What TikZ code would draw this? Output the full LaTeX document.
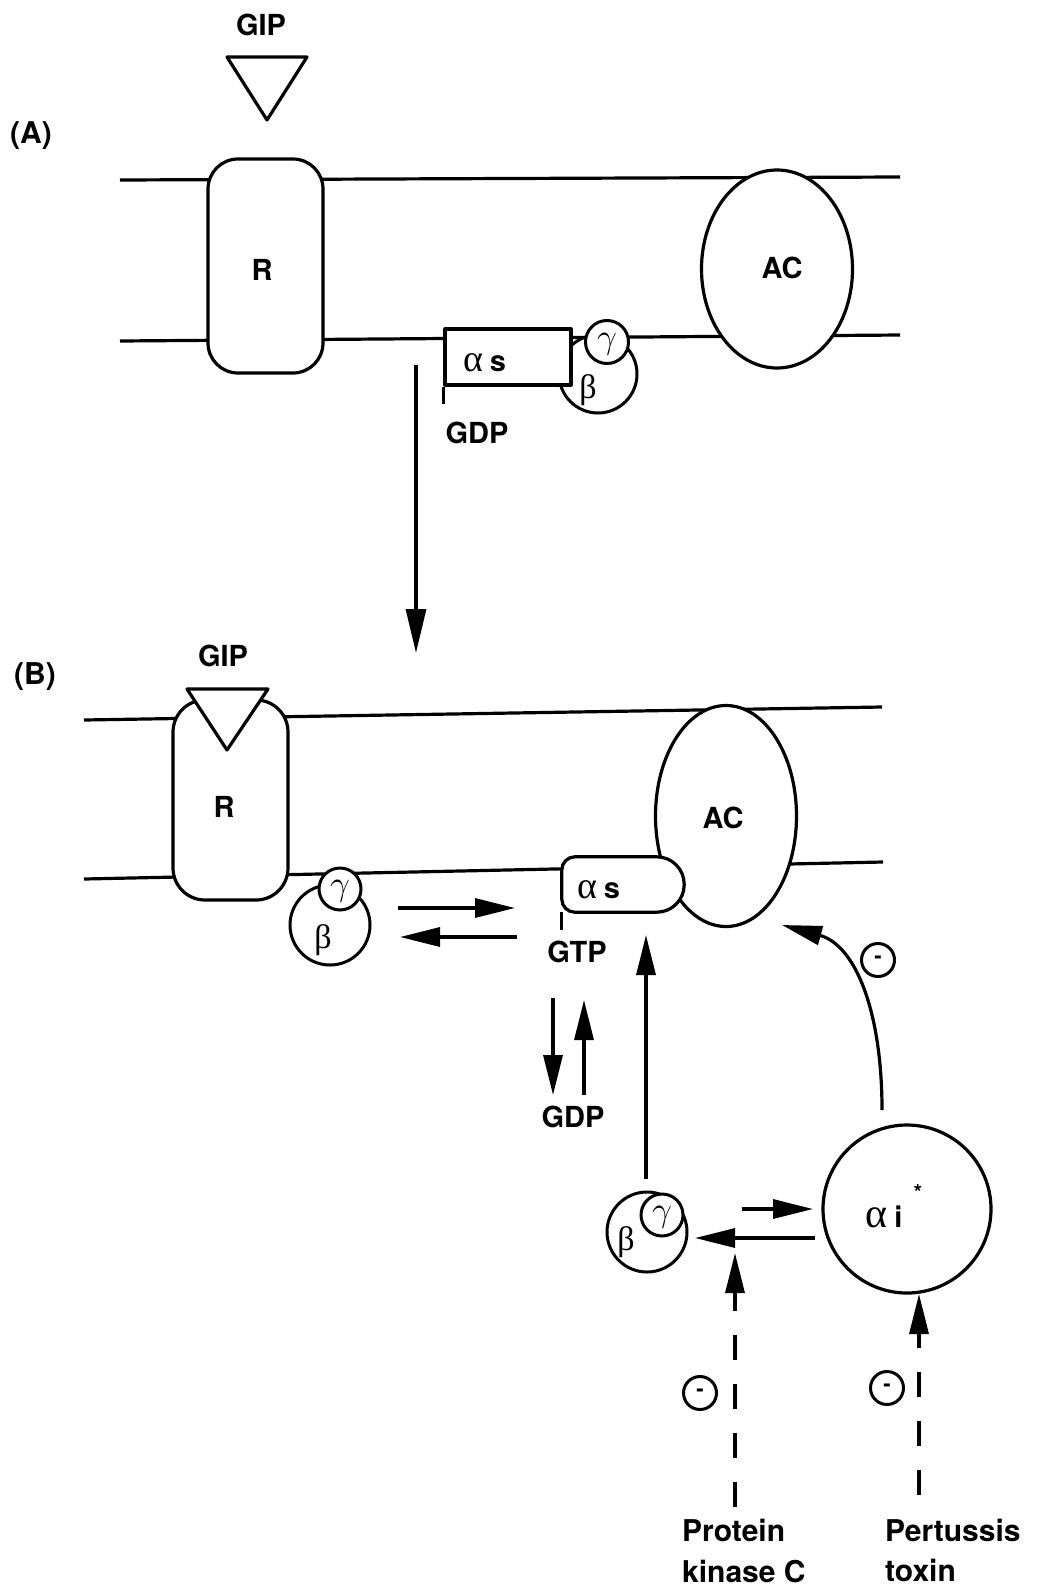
\documentclass[tikz,border=0pt]{standalone}
\usepackage{graphicx}
\usepackage{fontspec}
\setmainfont{TeX Gyre Heros}
\newfontfamily\grk{Liberation Serif}
\usetikzlibrary{arrows.meta,shapes.geometric}
\newcommand{\gam}{\fontsize{20}{22}\selectfont\scalebox{1.7}{$\gamma$}}
\begin{document}
\begin{tikzpicture}[x=1pt,y=-1pt,line join=round,
  lbl/.style={font=\fontsize{29}{32}\selectfont\bfseries, inner sep=0pt},
  ln/.style={line width=3.2pt},
  mem/.style={line width=3.2pt},
  rbox/.style={draw, line width=3.2pt, fill=white, rounded corners=30pt, minimum width=115pt, inner sep=0pt},
  acell/.style={draw, ellipse, line width=3.2pt, fill=white, inner sep=0pt},
  circ/.style={draw, circle, line width=3pt, fill=white, inner sep=0pt},
  arr/.style={line width=3.2pt, -{Triangle[length=40pt,width=19pt]}},
  dsh/.style={arr, dash pattern=on 25pt off 24pt},
  gk/.style={font=\grk\fontsize{34}{36}\selectfont, inner sep=0pt},
  minus/.style={circ, minimum size=33pt, font=\fontsize{22}{22}\selectfont\bfseries}
]
\useasboundingbox[fill=white] (0,0) rectangle (1039,1590);

% ---------------- (A) ----------------
\node[lbl, font=\fontsize{30}{32}\selectfont\bfseries] (labA) at (31,136) {(A)};
\node[lbl] (gipA) at (261,25) {GIP};
\draw[ln, fill=white] (227,57) coordinate (tA1) -- (307,57) coordinate (tA2) -- (267,120) coordinate (tA3) -- cycle;

\draw[mem] (120,180) coordinate (mAtl) -- (900,177) coordinate (mAtr);
\draw[mem] (120,341) coordinate (mAbl) -- (900,335) coordinate (mAbr);

\node[rbox, minimum height=214pt] (RA) at (265.5,266) {};
\node[lbl] (RAt) at (262,270) {R};
\node[acell, minimum width=151pt, minimum height=198pt] (ACA) at (777,269) {};
\node[lbl] (ACAt) at (782,268) {AC};

\node[circ, minimum size=78pt] (bA) at (598,374) {};
\node[draw, ln, fill=white, minimum width=126pt, minimum height=56pt, inner sep=0pt] (asA) at (508,357) {};
\node[circ, minimum size=43pt] (gA) at (607,342) {};
\draw[ln] (asA.south west) -- ++(0,17) coordinate (asAtail);
\node[inner sep=0pt] (asAt) at (485,363) {{\grk\fontsize{38}{40}\selectfont α}\hspace{6pt}{\fontsize{29}{32}\selectfont\bfseries s}};
\node[inner sep=0pt] (gAt) at (607,344) {\gam};
\node[gk] (bAt) at (588,390) {β};
\node[lbl] (gdpA) at (477,433) {GDP};

\coordinate (vA1) at (416,365);
\coordinate (vA2) at (416,653);
\draw[arr, -{Triangle[length=44pt,width=20pt]}] (vA1) -- (vA2);

% ---------------- (B) ----------------
\node[lbl, font=\fontsize{30}{32}\selectfont\bfseries] (labB) at (35,677) {(B)};
\node[lbl] (gipB) at (223,656) {GIP};

\draw[mem] (84,720) coordinate (mBtl) -- (882,707) coordinate (mBtr);
\draw[mem] (84,879) coordinate (mBbl) -- (883,862) coordinate (mBbr);

\node[rbox, rounded corners=32pt, minimum height=200pt] (RB) at (230.5,800) {};
\node[lbl] (RBt) at (224,807) {R};
\draw[ln, fill=white] (187,689) coordinate (tB1) -- (268,689) coordinate (tB2) -- (227,750) coordinate (tB3) -- cycle;

\node[acell, minimum width=141pt, minimum height=221pt] (ACB) at (726,816) {};
\node[lbl] (ACBt) at (723,818) {AC};

\node[minimum width=122pt, minimum height=55pt, inner sep=0pt] (asB) at (623,884.5) {};
\draw[ln, fill=white] (asB.south) [rounded corners=13pt] -- (asB.south west) -- (asB.north west) -- (asB.north) [rounded corners=27.5pt] -- (asB.north east) -- (asB.south east) -- (asB.south);
\draw[ln] (asB.south west) -- ++(0,18) coordinate (asBtail);
\node[inner sep=0pt] (asBt) at (599,890) {{\grk\fontsize{38}{40}\selectfont α}\hspace{6pt}{\fontsize{29}{32}\selectfont\bfseries s}};

% beta gamma near R
\node[circ, minimum size=80pt] (bB) at (330,925) {};
\node[circ, minimum size=42pt] (gB) at (340,889) {};
\node[inner sep=0pt] (gBt) at (340,891) {\gam};
\node[gk] (bBt) at (323,940) {β};

% exchange arrows
\coordinate (e1a) at (398,908); \coordinate (e1b) at (515,908);
\coordinate (e2a) at (517,937); \coordinate (e2b) at (400,937);
\draw[arr] (e1a) -- (e1b);
\draw[arr] (e2a) -- (e2b);

\node[lbl] (gtp) at (577,952) {GTP};
\node[lbl] (gdpB) at (573,1117) {GDP};
\coordinate (d1a) at (553,998); \coordinate (d1b) at (553,1095);
\coordinate (d2a) at (584,1095); \coordinate (d2b) at (584,1000);
\draw[arr] (d1a) -- (d1b);
\draw[arr] (d2a) -- (d2b);

% lower beta gamma
\node[circ, minimum size=80pt] (bC) at (647,1232) {};
\node[circ, minimum size=42pt] (gC) at (662,1215) {};
\node[inner sep=0pt] (gCt) at (662,1217) {\gam};
\node[gk] (bCt) at (626,1242) {β};

\coordinate (up1) at (646,1179); \coordinate (up2) at (646,935);
\draw[arr] (up1) -- (up2);

% alpha i
\node[circ, minimum size=168pt, line width=3.2pt] (ai) at (907,1209) {};
\node[inner sep=0pt] (ait) at (884,1217) {{\grk\fontsize{42}{44}\selectfont α}\hspace{7pt}{\fontsize{29}{32}\selectfont\bfseries i}};
\node[inner sep=0pt, font=\fontsize{22}{22}\selectfont\bfseries] (star) at (918,1192) {*};

\coordinate (f1a) at (742,1209); \coordinate (f1b) at (813,1209);
\coordinate (f2a) at (815,1238); \coordinate (f2b) at (695,1238);
\draw[arr] (f1a) -- (f1b);
\draw[arr] (f2a) -- (f2b);

% curved inhibitory arrow
\coordinate (cs) at (882,1110);
\coordinate (ce) at (782,925);
\draw[arr] (cs) .. controls (882,1010) and (855,945) .. (ce);
\node[minus] (m1) at (878,960) {-};

% dashed inhibitors
\coordinate (pkc) at (735,1507);
\coordinate (pkcT) at (735,1253);
\draw[dsh] (pkc) -- (pkcT);
\coordinate (ptx) at (919,1495);
\coordinate (ptxT) at (919,1294);
\draw[dsh] (ptx) -- (ptxT);
\node[minus] (m2) at (700,1393) {-};
\node[minus] (m3) at (887,1388) {-};

\node[lbl, font=\fontsize{30}{32}\selectfont\bfseries, anchor=base west] (pk1) at (682,1541) {Protein};
\node[lbl, font=\fontsize{30}{32}\selectfont\bfseries, anchor=base west] (pk2) at (682,1582) {kinase C};
\node[lbl, font=\fontsize{30}{32}\selectfont\bfseries, anchor=base west] (pt1) at (885,1541) {Pertussis};
\node[lbl, font=\fontsize{30}{32}\selectfont\bfseries, anchor=base west] (pt2) at (885,1581) {toxin};
\end{tikzpicture}
\end{document}
